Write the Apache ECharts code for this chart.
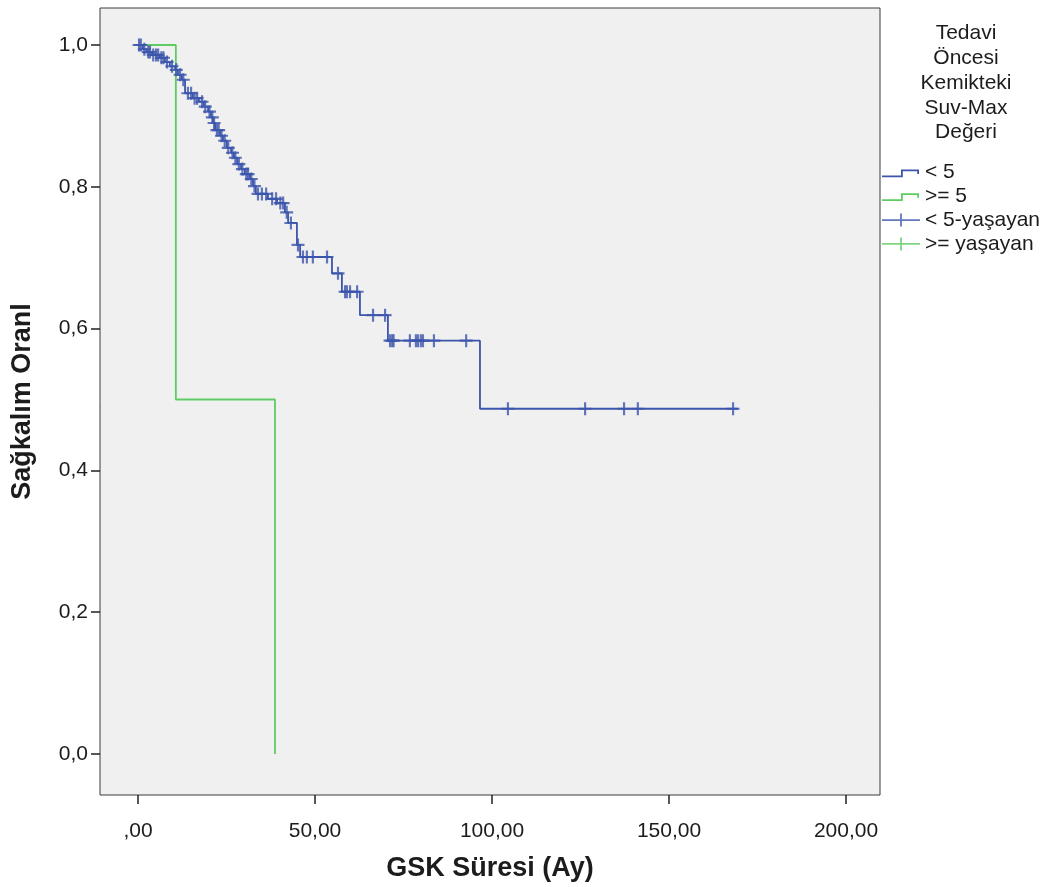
<!DOCTYPE html>
<html>
<head>
<meta charset="utf-8">
<script src="https://cdn.jsdelivr.net/npm/echarts@6/dist/echarts.min.js"></script>
<style>
html,body{margin:0;padding:0;background:#fff;}
#chart{width:1051px;height:887px;}
</style>
</head>
<body>
<div id="chart"></div>
<script>
// ---- data ----
const xTickValues = [0, 50, 100, 150, 200];
const yTickValues = [0, 0.2, 0.4, 0.6, 0.8, 1.0];
const seriesNames = ['< 5', '>= 5', '< 5-yaşayan', '>= yaşayan'];
const legendTitle = 'Tedavi\nÖncesi\nKemikteki\nSuv-Max\nDeğeri';
const xAxisName = 'GSK Süresi (Ay)';
const yAxisName = 'Sağkalım Oranl';

// "< 5" group: Kaplan-Meier steps (time, survival after step)
const blueTimes = [0, 1.4, 2.5, 4.0, 6.2, 7.6, 9.0, 10.5, 11.3, 12.4, 13.3, 15.5, 17.2, 18.6, 19.8, 20.6, 21.2, 21.8, 23.2, 24.0, 25.1, 26.3, 27.1, 28.0, 29.1, 30.2, 31.6, 32.5, 33.3, 36.7, 39.3, 41.5, 42.4, 44.9, 45.8, 54.8, 57.6, 62.7, 70.6, 96.6, 169.5];
const blueSurv  = [1.0, 0.994, 0.990, 0.986, 0.982, 0.976, 0.970, 0.965, 0.958, 0.951, 0.932, 0.925, 0.920, 0.913, 0.906, 0.898, 0.890, 0.880, 0.872, 0.865, 0.855, 0.848, 0.841, 0.832, 0.825, 0.818, 0.811, 0.801, 0.790, 0.783, 0.777, 0.764, 0.749, 0.718, 0.701, 0.678, 0.652, 0.619, 0.583, 0.487, 0.487];
// "< 5" censored cases
const blueCensorTimes = [0.3, 0.8, 1.8, 2.9, 3.4, 4.3, 5.1, 5.7, 6.6, 7.2, 8.2, 9.6, 10.8, 11.9, 12.8, 14.1, 15.0, 16.0, 16.7, 18.1, 19.0, 20.2, 21.0, 21.5, 22.3, 22.8, 23.6, 24.5, 25.5, 26.7, 27.5, 28.5, 29.5, 30.6, 31.1, 32.0, 32.9, 33.9, 35.0, 36.2, 37.9, 39.0, 40.2, 41.0, 42.0, 43.2, 45.2, 46.6, 47.7, 49.4, 53.4, 56.5, 58.5, 59.0, 59.9, 61.9, 66.4, 69.8, 71.2, 71.8, 72.2, 76.8, 78.5, 79.1, 79.9, 80.5, 83.6, 92.7, 104.5, 126.3, 137.3, 141.2, 168.1];
const blueCensorSurv  = [1.0, 1.0, 0.994, 0.990, 0.990, 0.986, 0.986, 0.986, 0.982, 0.982, 0.976, 0.970, 0.965, 0.958, 0.951, 0.932, 0.932, 0.925, 0.925, 0.920, 0.913, 0.906, 0.898, 0.890, 0.880, 0.880, 0.872, 0.865, 0.855, 0.848, 0.841, 0.832, 0.825, 0.818, 0.818, 0.811, 0.801, 0.790, 0.790, 0.790, 0.783, 0.783, 0.777, 0.777, 0.764, 0.749, 0.718, 0.701, 0.701, 0.701, 0.701, 0.678, 0.652, 0.652, 0.652, 0.652, 0.619, 0.619, 0.583, 0.583, 0.583, 0.583, 0.583, 0.583, 0.583, 0.583, 0.583, 0.583, 0.487, 0.487, 0.487, 0.487, 0.487];

// ">= 5" group
const greenTimes = [0, 10.7, 38.7];
const greenSurv  = [1.0, 0.5, 0.0];
const greenCensorTimes = [];
const greenCensorSurv = [];

// ---- build ----
const zip = (a, b) => a.map((v, i) => [v, b[i]]);
const BLUE = '#3b55ab';
const GREEN = '#5fcb63';
const TXT = '#1c1c1c';
const FONT = 'Liberation Sans, Arial, sans-serif';

const plusSymbol = 'path://M-1,-6H1V-1H6V1H1V6H-1V1H-6V-1H-1Z';
const stepIcon = 'path://M0,0h0.01v0.01z M38,14h-0.01v-0.01z M0,10H19V4H37V8.5H35.2V5.8H20.8V11.8H0Z';
const censorIcon = 'path://M0,0h0.01v0.01z M38,14h-0.01v-0.01z M0,6.1H18.1V0.5H19.9V6.1H38V7.9H19.9V13.5H18.1V7.9H0Z';

const chart = echarts.init(document.getElementById('chart'), null, {renderer: 'canvas'});
chart.setOption({
  animation: false,
  backgroundColor: '#ffffff',
  grid: {
    left: 100, top: 8, right: 171, bottom: 92,
    show: true, backgroundColor: '#f0f0f0', borderColor: '#3a3a3a', borderWidth: 1
  },
  xAxis: {
    type: 'value', min: -10.73, max: 209.6,
    name: xAxisName, nameLocation: 'middle', nameGap: 60,
    nameTextStyle: {fontFamily: FONT, fontSize: 27, fontWeight: 'bold', color: TXT},
    axisLine: {show: false, onZero: false},
    axisTick: {show: true, customValues: xTickValues, length: 9, lineStyle: {color: '#222', width: 1.5}},
    axisLabel: {customValues: xTickValues, margin: 26, fontFamily: FONT, fontSize: 21, color: TXT,
      formatter: v => (v === 0 ? '' : String(v)) + ',00'},
    splitLine: {show: false}
  },
  yAxis: {
    type: 'value', min: -0.0578, max: 1.0522,
    name: yAxisName, nameLocation: 'middle', nameGap: 64, nameRotate: 90,
    nameTextStyle: {fontFamily: FONT, fontSize: 27, fontWeight: 'bold', color: TXT},
    axisLine: {show: false, onZero: false},
    axisTick: {show: true, customValues: yTickValues, length: 9, lineStyle: {color: '#222', width: 1.5}},
    axisLabel: {customValues: yTickValues, margin: 12, fontFamily: FONT, fontSize: 21, color: TXT,
      formatter: v => v.toFixed(1).replace('.', ',')},
    splitLine: {show: false}
  },
  legend: {
    orient: 'vertical', left: 877, top: 157,
    itemWidth: 38, itemHeight: 14, itemGap: 2.8,
    textStyle: {fontFamily: FONT, fontSize: 21, color: TXT},
    data: [
      {name: seriesNames[0], icon: stepIcon, itemStyle: {color: BLUE, borderWidth: 0}},
      {name: seriesNames[1], icon: stepIcon, itemStyle: {color: GREEN, borderWidth: 0}},
      {name: seriesNames[2], icon: censorIcon, itemStyle: {color: BLUE, borderWidth: 0}},
      {name: seriesNames[3], icon: censorIcon, itemStyle: {color: GREEN, borderWidth: 0}}
    ]
  },
  graphic: [{
    type: 'text', x: 966, y: 21,
    style: {text: legendTitle, fill: TXT, font: '21px ' + FONT, align: 'center', textAlign: 'center', lineHeight: 24.8}
  }],
  series: [
    {name: seriesNames[1], type: 'line', step: 'end', data: zip(greenTimes, greenSurv),
      showSymbol: false, color: GREEN, lineStyle: {color: GREEN, width: 1.8}, z: 2},
    {name: seriesNames[0], type: 'line', step: 'end', data: zip(blueTimes, blueSurv),
      showSymbol: false, color: BLUE, lineStyle: {color: BLUE, width: 1.8}, z: 3},
    {name: seriesNames[2], type: 'scatter', data: zip(blueCensorTimes, blueCensorSurv),
      symbol: plusSymbol, symbolSize: 13, color: BLUE, itemStyle: {color: BLUE}, z: 4},
    {name: seriesNames[3], type: 'scatter', data: zip(greenCensorTimes, greenCensorSurv),
      symbol: plusSymbol, symbolSize: 13, color: GREEN, itemStyle: {color: GREEN}, z: 4}
  ]
});
</script>
</body>
</html>
